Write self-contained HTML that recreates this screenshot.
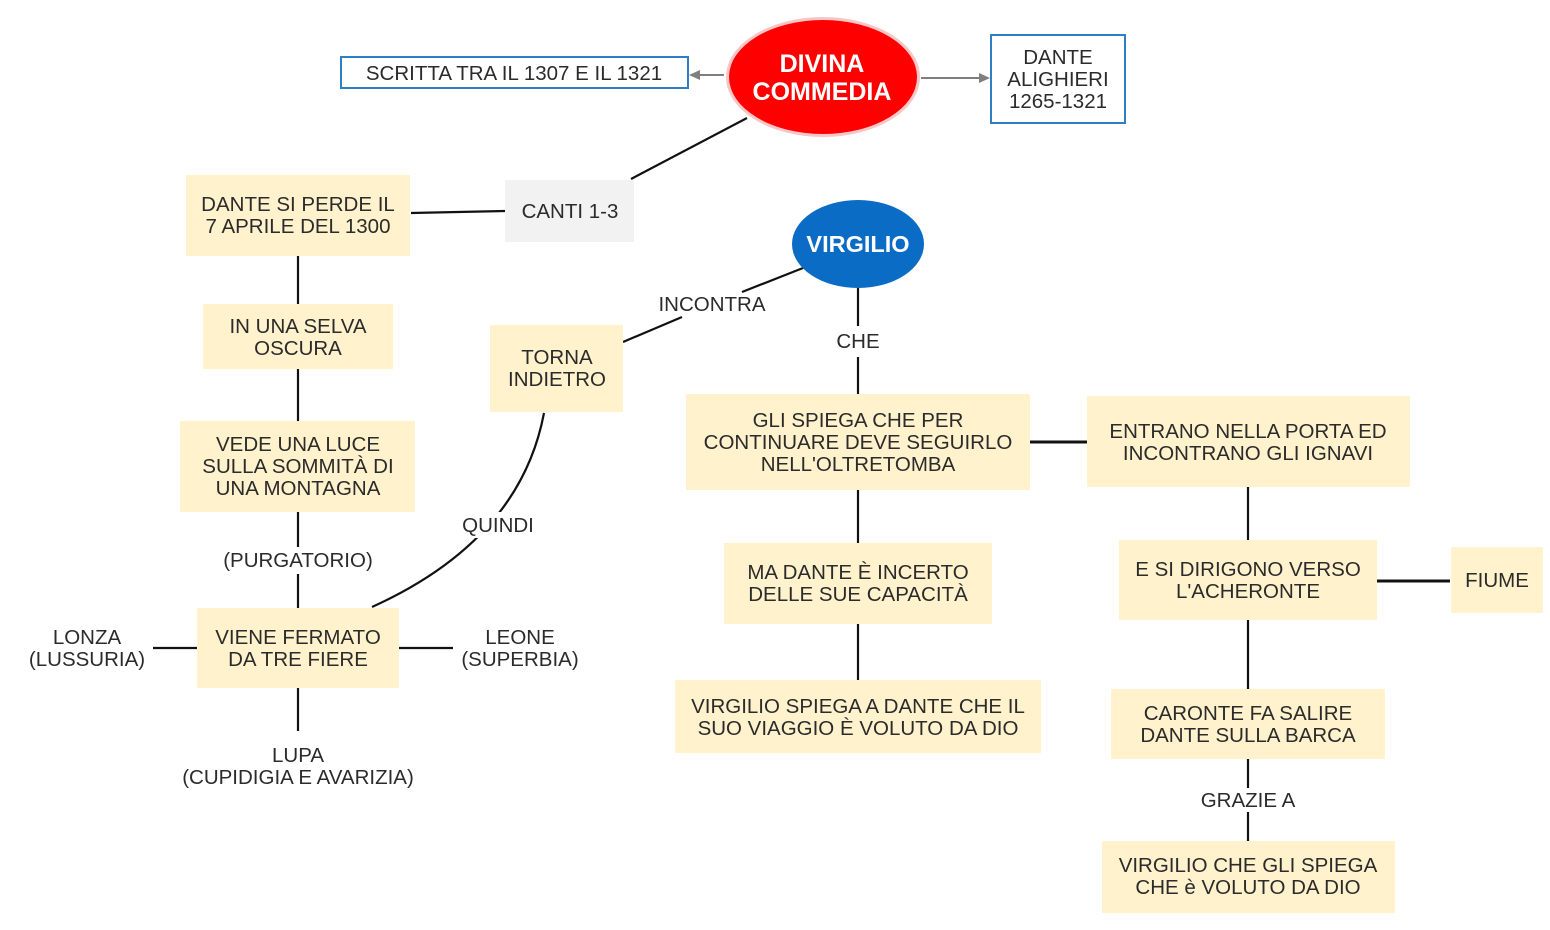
<!DOCTYPE html>
<html>
<head>
<meta charset="utf-8">
<style>
  html, body { margin: 0; padding: 0; background: #ffffff; }
  body { width: 1550px; height: 930px; overflow: hidden; }
  svg { display: block; }
  text { font-family: "Liberation Sans", Arial, sans-serif; fill: #2b2b2b; font-size: 20.5px; }
  .c { text-anchor: middle; }
  .w { fill: #ffffff; font-weight: bold; }
</style>
</head>
<body>
<svg width="1550" height="930" viewBox="0 0 1550 930" xmlns="http://www.w3.org/2000/svg">
  <rect x="0" y="0" width="1550" height="930" fill="#ffffff"/>

  <!-- ===== connectors ===== -->
  <g stroke="#111" stroke-width="2.2" fill="none" stroke-linecap="butt">
    <!-- Divina Commedia to Canti -->
    <line x1="747" y1="118" x2="631" y2="179"/>
    <!-- Canti to Dante si perde -->
    <line x1="505" y1="211" x2="411" y2="213"/>
    <!-- left vertical column -->
    <line x1="298" y1="256" x2="298" y2="304"/>
    <line x1="298" y1="369" x2="298" y2="421"/>
    <line x1="298" y1="512" x2="298" y2="547"/>
    <line x1="298" y1="574" x2="298" y2="608"/>
    <line x1="298" y1="688" x2="298" y2="731"/>
    <!-- lonza / leone -->
    <line x1="153" y1="648" x2="197" y2="648"/>
    <line x1="399" y1="648" x2="453" y2="648"/>
    <!-- Quindi curve (with gap for label) -->
    <path d="M544,413 Q520,540 372,607"/>
    <!-- Incontra -->
    <line x1="623" y1="342" x2="682" y2="317"/>
    <line x1="742" y1="292" x2="803" y2="268"/>
    <!-- Che -->
    <line x1="858" y1="288" x2="858" y2="326"/>
    <line x1="858" y1="357" x2="858" y2="394"/>
    <!-- middle column -->
    <line x1="858" y1="490" x2="858" y2="543"/>
    <line x1="858" y1="624" x2="858" y2="680"/>
    <!-- right column -->
    <line x1="1248" y1="487" x2="1248" y2="540"/>
    <line x1="1248" y1="620" x2="1248" y2="689"/>
    <line x1="1248" y1="759" x2="1248" y2="788"/>
    <line x1="1248" y1="812" x2="1248" y2="841"/>
  </g>
  <g stroke="#111" stroke-width="3" fill="none">
    <line x1="1030" y1="442" x2="1087" y2="442"/>
    <line x1="1377" y1="581" x2="1450" y2="581"/>
  </g>
  <!-- white gap behind QUINDI label -->
  <rect x="458" y="512" width="82" height="26" fill="#ffffff"/>

  <!-- gray arrows -->
  <g stroke="#7f7f7f" stroke-width="2" fill="#7f7f7f">
    <line x1="724" y1="75" x2="698" y2="75"/>
    <polygon points="689,75 700,70 700,80" stroke="none"/>
    <line x1="921" y1="78" x2="981" y2="78"/>
    <polygon points="990,78 979,73 979,83" stroke="none"/>
  </g>

  <!-- ===== nodes ===== -->
  <!-- Divina Commedia -->
  <ellipse cx="823" cy="77" rx="97" ry="60" fill="#f8c6c6"/>
  <ellipse cx="823" cy="77" rx="94" ry="57" fill="#ff0000"/>
  <text class="c w" x="822" y="72" style="font-size:25px">DIVINA</text>
  <text class="c w" x="822" y="100" style="font-size:25px">COMMEDIA</text>

  <!-- Scritta -->
  <rect x="341" y="57" width="347" height="31" fill="#ffffff" stroke="#2f7fc6" stroke-width="2"/>
  <text class="c" x="514" y="80">SCRITTA TRA IL 1307 E IL 1321</text>

  <!-- Dante Alighieri -->
  <rect x="991" y="35" width="134" height="88" fill="#ffffff" stroke="#2f7fc6" stroke-width="2"/>
  <text class="c" x="1058" y="64">DANTE</text>
  <text class="c" x="1058" y="86">ALIGHIERI</text>
  <text class="c" x="1058" y="108">1265-1321</text>

  <!-- Canti 1-3 -->
  <rect x="505" y="180" width="129" height="62" fill="#f2f2f2"/>
  <text class="c" x="570" y="218">CANTI 1-3</text>

  <!-- Virgilio -->
  <ellipse cx="858" cy="244" rx="66" ry="44" fill="#0b6cc5"/>
  <text class="c w" x="858" y="252" style="font-size:23.5px">VIRGILIO</text>

  <g fill="#fff2cc">
    <rect x="186" y="175" width="224" height="81"/>
    <rect x="203" y="304" width="190" height="65"/>
    <rect x="180" y="421" width="235" height="91"/>
    <rect x="197" y="608" width="202" height="80"/>
    <rect x="490" y="325" width="133" height="87"/>
    <rect x="686" y="394" width="344" height="96"/>
    <rect x="724" y="543" width="268" height="81"/>
    <rect x="675" y="680" width="366" height="73"/>
    <rect x="1087" y="396" width="323" height="91"/>
    <rect x="1119" y="540" width="258" height="80"/>
    <rect x="1451" y="547" width="92" height="66"/>
    <rect x="1111" y="689" width="274" height="70"/>
    <rect x="1102" y="841" width="293" height="72"/>
  </g>

  <!-- box texts -->
  <text class="c" x="298" y="211">DANTE SI PERDE IL</text>
  <text class="c" x="298" y="233">7 APRILE DEL 1300</text>

  <text class="c" x="298" y="333">IN UNA SELVA</text>
  <text class="c" x="298" y="355">OSCURA</text>

  <text class="c" x="298" y="451">VEDE UNA LUCE</text>
  <text class="c" x="298" y="473">SULLA SOMMITÀ DI</text>
  <text class="c" x="298" y="495">UNA MONTAGNA</text>

  <text class="c" x="298" y="644">VIENE FERMATO</text>
  <text class="c" x="298" y="666">DA TRE FIERE</text>

  <text class="c" x="557" y="364">TORNA</text>
  <text class="c" x="557" y="386">INDIETRO</text>

  <text class="c" x="858" y="427">GLI SPIEGA CHE PER</text>
  <text class="c" x="858" y="449">CONTINUARE DEVE SEGUIRLO</text>
  <text class="c" x="858" y="471">NELL'OLTRETOMBA</text>

  <text class="c" x="858" y="579">MA DANTE È INCERTO</text>
  <text class="c" x="858" y="601">DELLE SUE CAPACITÀ</text>

  <text class="c" x="858" y="713">VIRGILIO SPIEGA A DANTE CHE IL</text>
  <text class="c" x="858" y="735">SUO VIAGGIO È VOLUTO DA DIO</text>

  <text class="c" x="1248" y="438">ENTRANO NELLA PORTA ED</text>
  <text class="c" x="1248" y="460">INCONTRANO GLI IGNAVI</text>

  <text class="c" x="1248" y="576">E SI DIRIGONO VERSO</text>
  <text class="c" x="1248" y="598">L'ACHERONTE</text>

  <text class="c" x="1497" y="587">FIUME</text>

  <text class="c" x="1248" y="720">CARONTE FA SALIRE</text>
  <text class="c" x="1248" y="742">DANTE SULLA BARCA</text>

  <text class="c" x="1248" y="872">VIRGILIO CHE GLI SPIEGA</text>
  <text class="c" x="1248" y="894">CHE è VOLUTO DA DIO</text>

  <!-- free labels -->
  <text class="c" x="712" y="311">INCONTRA</text>
  <text class="c" x="858" y="348">CHE</text>
  <text class="c" x="498" y="532">QUINDI</text>
  <text class="c" x="298" y="567">(PURGATORIO)</text>

  <text class="c" x="87" y="644">LONZA</text>
  <text class="c" x="87" y="666">(LUSSURIA)</text>

  <text class="c" x="520" y="644">LEONE</text>
  <text class="c" x="520" y="666">(SUPERBIA)</text>

  <text class="c" x="298" y="762">LUPA</text>
  <text class="c" x="298" y="784">(CUPIDIGIA E AVARIZIA)</text>

  <text class="c" x="1248" y="807">GRAZIE A</text>
</svg>
</body>
</html>
